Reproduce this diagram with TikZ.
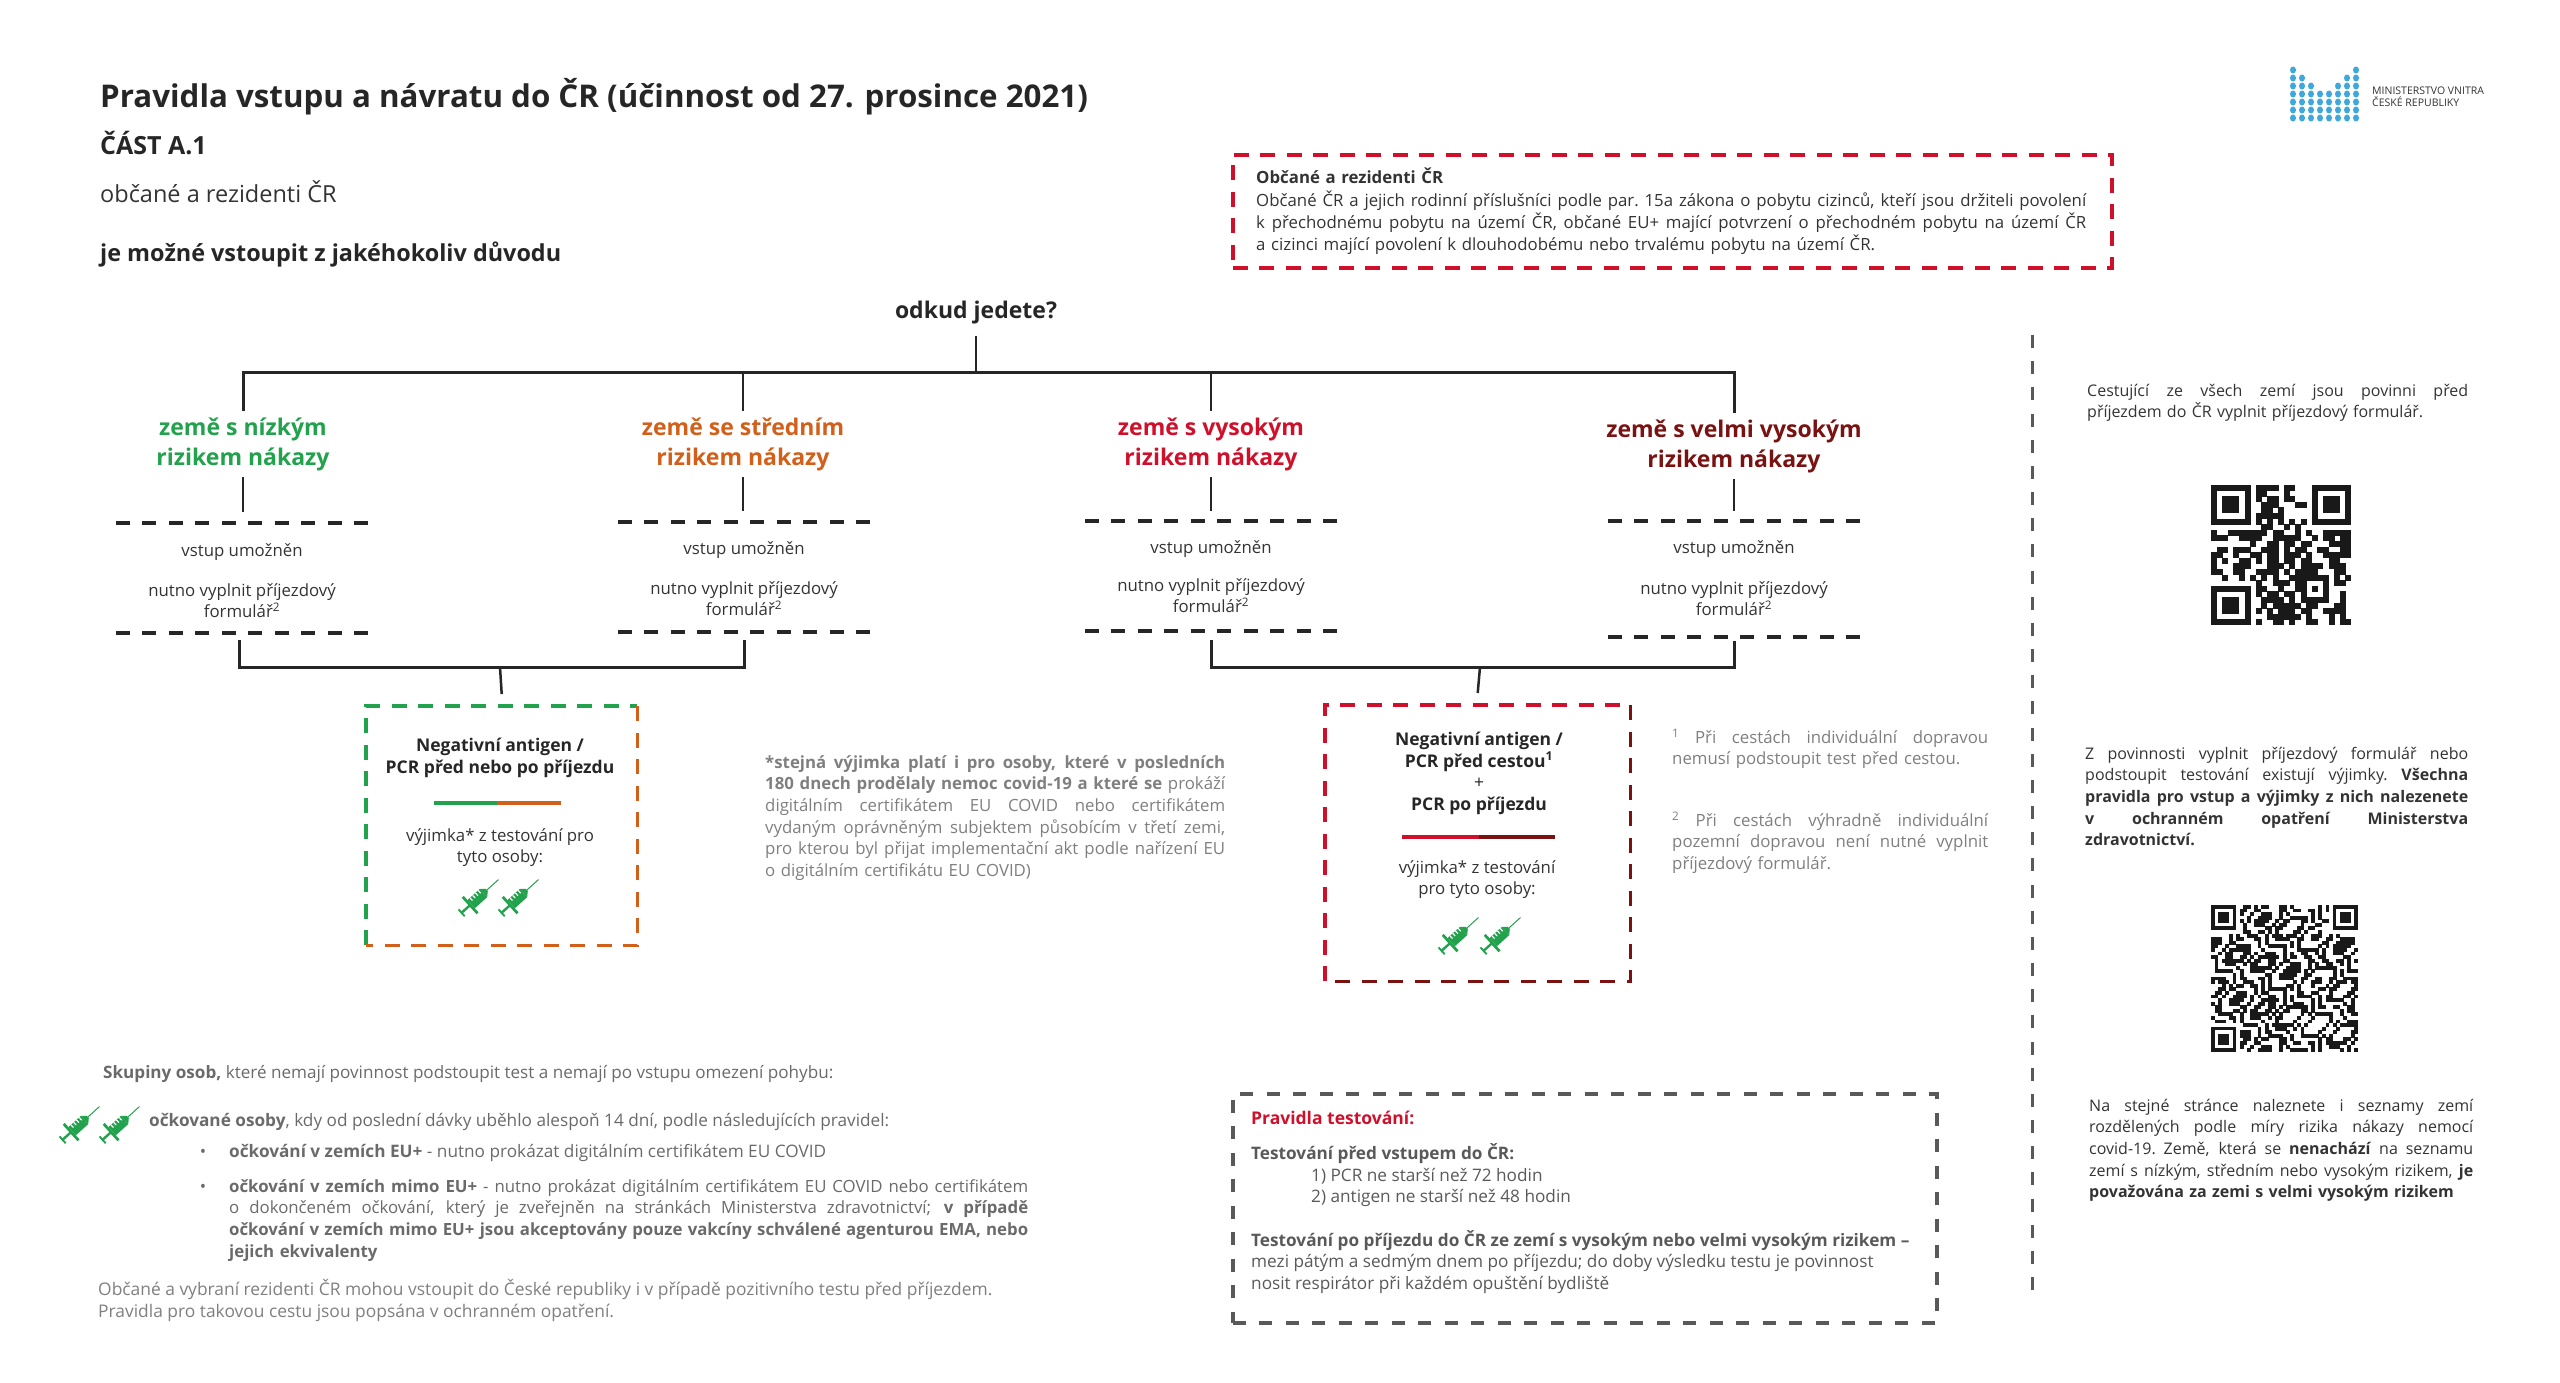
\documentclass[tikz,border=0pt]{standalone}
\usepackage{fontspec}
\setmainfont{Open Sans}
\usetikzlibrary{positioning, calc}

\definecolor{riskgreen}{HTML}{23A24D}
\definecolor{riskorange}{HTML}{D2601A}
\definecolor{riskred}{HTML}{D0102B}
\definecolor{riskdark}{HTML}{7A1212}
\definecolor{boxgray}{HTML}{595959}
\definecolor{softgray}{HTML}{7F7F7F}
\definecolor{midgray}{HTML}{6A6A6A}
\definecolor{inkgray}{HTML}{333333}
\definecolor{logoblue}{HTML}{3FA7DB}

\newcommand{\bodyfont}{\fontsize{16.8}{21.6}\selectfont}
\newcommand{\sidefont}{\fontsize{16}{21.6}\selectfont}
\newcommand{\lowfont}{\fontsize{17.2}{21.6}\selectfont}
\newcommand{\boldfont}{\fontsize{17.5}{21.6}\selectfont\bfseries}
\newcommand{\jl}[2]{\leavevmode\hbox to #1pt{\spaceskip=.26em plus 1fil minus .12em\xspaceskip=\spaceskip #2}}

% one row of a code square, read bit by bit
\newcount\qrcol
\newcommand{\qrscan}[1]{\ifx#1;\else\if#11\fill (\qrx+\the\qrcol*\qrm,\qry+\qrrow*\qrm) rectangle +(\qrm+.3,\qrm+.3);\fi\advance\qrcol by 1 \expandafter\qrscan\fi}

\begin{document}
\begin{tikzpicture}[
        x=1pt, y=-1pt,
        txt/.style={inner sep=0pt, execute at begin node=\strut},
        body/.style={txt, font=\bodyfont, text=inkgray},
        para/.style={body, anchor=north west, align=left},
        entry/.style={body, align=center, minimum width=252pt},
        head/.style={inner sep=0pt, align=center, font=\fontsize{23}{30}\selectfont\bfseries, minimum height=66pt},
        wire/.style={line width=3pt, draw=black!85},
        rule/.style={line width=3.5pt, draw=black!85, dash pattern=on 14pt off 12.5pt},
        edge/.style={line width=3.5pt, dash pattern=on 15pt off 11.5pt},
        syr/.style={fill=riskgreen, draw=none},
        syringe/.pic={
            \begin{scope}[rotate=42, scale=.92]
                \fill[syr] (-25pt,-5pt) rectangle (-23pt,5pt);
                \fill[syr] (-25pt,-1.3pt) rectangle (-12pt,1.3pt);
                \fill[syr] (-13pt,-12pt) rectangle (-10pt,12pt);
                \fill[syr] (-10pt,-6pt) rectangle (8pt,6pt);
                \fill[syr] (8pt,-6pt) -- (13pt,-1.5pt) -- (13pt,1.5pt) -- (8pt,6pt) -- cycle;
                \draw[riskgreen, line width=1pt] (13pt,0pt) -- (30pt,0pt);
                \foreach \t in {-7,-3,1,5} \fill[white] (\t pt,2pt) rectangle (\t pt+1.3pt,6pt);
            \end{scope}
        }
    ]
    \useasboundingbox (0,0) rectangle (2560,1382);

    % header
    \node[txt, anchor=west, font=\fontsize{31.3}{43}\selectfont\bfseries, text=black!85] (title) at (100,99) {Pravidla vstupu a návratu do ČR (účinnost od 27. prosince 2021)};
    \node[txt, anchor=west, font=\fontsize{25}{33}\selectfont\bfseries, text=black!85] (part) at (100,148) {ČÁST A.1};
    \node[txt, anchor=west, font=\fontsize{23.5}{31}\selectfont, text=inkgray] (who) at (100,196) {občané a rezidenti ČR};
    \node[txt, anchor=west, font=\fontsize{23.4}{31}\selectfont\bfseries, text=black!85] (why) at (100,255) {je možné vstoupit z jakéhokoliv důvodu};

    % logo
    \foreach \r in {0,...,6} \foreach \c in {0,...,7} {
        \ifnum\c<\numexpr\r+1\relax \fill[logoblue] (2293+\c*9,70+\r*8) ellipse (3 and 3.5);
        \else\ifnum\c>\numexpr6-\r\relax \fill[logoblue] (2293+\c*9,70+\r*8) ellipse (3 and 3.5);\fi\fi
    }
    \node[txt, anchor=north west, align=left, font=\fontsize{10.5}{12}\selectfont, text=inkgray] (logotext) at (2372,87) {MINISTERSTVO VNITRA\\ČESKÉ REPUBLIKY};

    % who counts as citizen or resident
    \node[edge, draw=riskred, minimum width=879pt, minimum height=113pt, anchor=north west] (citizens) at (1231,153) {};
    \node[para, text width=830pt] (citizenstext) at (1256,168) {\textbf{Občané a rezidenti ČR}\\
        \jl{830}{Občané ČR a jejich rodinní příslušníci podle par. 15a zákona o pobytu cizinců, kteří jsou držiteli povolení}\\
        \jl{830}{k přechodnému pobytu na území ČR, občané EU+ mající potvrzení o přechodném pobytu na území ČR}\\
        a cizinci mající povolení k dlouhodobému nebo trvalému pobytu na území ČR.};

    % the tree
    \node[txt, font=\fontsize{23}{31}\selectfont\bfseries, text=black!85] (from) at (976,312) {odkud jedete?};
    \coordinate (bus) at (976,372);
    \node[head, text=riskgreen] (low) at (243,444) {země s nízkým\\rizikem nákazy};
    \node[head, text=riskorange] (mid) at (743,444) {země se středním\\rizikem nákazy};
    \node[head, text=riskred] (high) at (1211,444) {země s vysokým\\rizikem nákazy};
    \node[head, text=riskdark] (vhigh) at (1734,446) {země s velmi vysokým\\rizikem nákazy};

    \draw[wire, line width=2.5pt] ([yshift=-8pt]from.south) -- (bus);
    \draw[wire] (low.north) -- (low.north |- bus) -- (vhigh.north |- bus) -- (vhigh.north);
    \draw[wire, line width=2.5pt] (mid.north) -- (mid.north |- bus);
    \draw[wire, line width=2.5pt] (high.north) -- (high.north |- bus);

    \node[entry, minimum height=110pt] (lowentry) at (242,578) {};
    \node[entry, minimum height=110pt] (midentry) at (744,577) {};
    \node[entry, minimum height=110pt] (highentry) at (1211,576) {};
    \node[entry, minimum height=116pt] (vhighentry) at (1734,579) {};

    \foreach \n in {lowentry, midentry, highentry, vhighentry} {
        \draw[rule] (\n.north west) -- (\n.north east);
        \draw[rule] (\n.south west) -- (\n.south east);
    }
    \draw[wire, line width=2.5pt] (low.south) -- ([yshift=11pt]lowentry.north -| low);
    \draw[wire, line width=2.5pt] (mid.south) -- ([yshift=11pt]midentry.north -| mid);
    \draw[wire, line width=2.5pt] (high.south) -- ([yshift=10pt]highentry.north -| high);
    \draw[wire, line width=2.5pt] (vhigh.south) -- ([yshift=10pt]vhighentry.north -| vhigh);

    \node[body] (lowin) at (242,552) {vstup umožněn};
    \node[body] (midin) at (744,550) {vstup umožněn};
    \node[body] (highin) at (1211,549) {vstup umožněn};
    \node[body] (vhighin) at (1734,549) {vstup umožněn};
    \node[body, align=center, anchor=north] (lowform) at (242,583) {nutno vyplnit příjezdový\\formulář\textsuperscript{2}};
    \node[body, align=center, anchor=north] (midform) at (744,581) {nutno vyplnit příjezdový\\formulář\textsuperscript{2}};
    \node[body, align=center, anchor=north] (highform) at (1211,578) {nutno vyplnit příjezdový\\formulář\textsuperscript{2}};
    \node[body, align=center, anchor=north] (vhighform) at (1734,581) {nutno vyplnit příjezdový\\formulář\textsuperscript{2}};

    % green and orange box
    \node[inner sep=0pt, minimum width=271pt, minimum height=239pt, anchor=north west] (gobox) at (366,706) {};
    \coordinate (gojoin) at (500,667);
    \draw[wire] ([xshift=-3pt,yshift=-7pt]lowentry.south) |- (gojoin) -| ([yshift=-8pt]midentry.south);
    \draw[wire, line width=2.5pt] (gojoin) -- ([yshift=12pt]gobox.north);
    \draw[edge, draw=riskgreen] (gobox.south west) -- (gobox.north west) -- (gobox.north east);
    \draw[edge, draw=riskorange] (gobox.north east) -- (gobox.south east) -- (gobox.south west);
    \node[body, align=center, anchor=north, font=\boldfont, text=black!85] (gotest) at (500,738) {Negativní antigen /\\PCR před nebo po příjezdu};
    \coordinate (gomid) at (497,803);
    \draw[riskgreen, line width=3.5pt] (434,803) -- (gomid);
    \draw[riskorange, line width=3.5pt] (gomid) -- (561,803);
    \node[body, align=center, anchor=north] (goexc) at (500,828) {výjimka* z testování pro\\tyto osoby:};
    \pic at (478,898) {syringe};
    \pic at (518,898) {syringe};

    % red and dark red box
    \node[inner sep=0pt, minimum width=305pt, minimum height=276pt, anchor=north west] (rdbox) at (1325,705) {};
    \coordinate (rdjoin) at (1480,667);
    \draw[wire] ([yshift=-9pt]highentry.south) |- (rdjoin) -| ([yshift=-4pt]vhighentry.south);
    \draw[wire, line width=2.5pt] (rdjoin) -- ([yshift=12pt]rdbox.north);
    \draw[edge, draw=riskred] (rdbox.south west) -- (rdbox.north west) -- (rdbox.north east);
    \draw[edge, draw=riskdark] (rdbox.north east) -- (rdbox.south east) -- (rdbox.south west);
    \node[body, align=center, anchor=north, font=\boldfont, text=black!85] (rdtest) at (1479,732) {Negativní antigen /\\PCR před cestou\textsuperscript{1}\\\textmd{+}\\PCR po příjezdu};
    \coordinate (rdmid) at (1479,837);
    \draw[riskred, line width=3.5pt] (1402,837) -- (rdmid);
    \draw[riskdark, line width=3.5pt] (rdmid) -- (1555,837);
    \node[body, align=center, anchor=north] (rdexc) at (1477,860) {výjimka* z testování\\pro tyto osoby:};
    \pic at (1458,936) {syringe};
    \pic at (1500,936) {syringe};

    % notes beside the boxes
    \node[para, text width=460pt, text=softgray] (recovered) at (765,753) {\jl{460}{\textbf{*stejná výjimka platí i pro osoby, které v posledních}}\\
        \jl{460}{\textbf{180 dnech prodělaly nemoc covid-19 a které se} prokáží}\\
        \jl{460}{digitálním certifikátem EU COVID nebo certifikátem}\\
        \jl{460}{vydaným oprávněným subjektem působícím v třetí zemi,}\\
        \jl{460}{pro kterou byl přijat implementační akt podle nařízení EU}\\
        o digitálním certifikátu EU COVID)};
    \node[para, text width=316pt, text=softgray] (noteone) at (1672,728) {\jl{316}{\textsuperscript{1} Při cestách individuální dopravou}\\nemusí podstoupit test před cestou.};
    \node[para, text width=316pt, text=softgray] (notetwo) at (1672,811) {\jl{316}{\textsuperscript{2} Při cestách výhradně individuální}\\\jl{316}{pozemní dopravou není nutné vyplnit}\\příjezdový formulář.};

    % exempt groups
    \node[para, font=\fontsize{17.1}{21.6}\selectfont, text=midgray] (groups) at (103,1063) {\textbf{Skupiny osob,} které nemají povinnost podstoupit test a nemají po vstupu omezení pohybu:};
    \pic at (79,1125) {syringe};
    \pic at (119,1125) {syringe};
    \node[para, font=\lowfont, text=midgray] (vaccinated) at (149,1111) {\textbf{očkované osoby}, kdy od poslední dávky uběhlo alespoň 14 dní, podle následujících pravidel:};
    \node[body, text=midgray] (bulletone) at (203,1153) {•};
    \node[para, font=\lowfont, text=midgray] (euplus) at (229,1142) {\textbf{očkování v zemích EU+} - nutno prokázat digitálním certifikátem EU COVID};
    \node[body, text=midgray] (bullettwo) at (203,1188) {•};
    \node[para, text width=799pt, text=midgray] (noneu) at (229,1177) {\jl{799}{\textbf{očkování v zemích mimo EU+} - nutno prokázat digitálním certifikátem EU COVID nebo certifikátem}\\
        \jl{799}{o dokončeném očkování, který je zveřejněn na stránkách Ministerstva zdravotnictví; \textbf{v případě}}\\
        \jl{799}{\textbf{očkování v zemích mimo EU+ jsou akceptovány pouze vakcíny schválené agenturou EMA, nebo}}\\
        \textbf{jejich ekvivalenty}};
    \node[para, font=\fontsize{17.4}{21.6}\selectfont, text=softgray] (positive) at (98,1279) {Občané a vybraní rezidenti ČR mohou vstoupit do České republiky i v případě pozitivního testu před příjezdem.\\Pravidla pro takovou cestu jsou popsána v ochranném opatření.};

    % testing rules
    \node[edge, dash pattern=on 13pt off 13.5pt, draw=boxgray, minimum width=704pt, minimum height=229pt, anchor=north west] (testing) at (1231,1092) {};
    \node[para, text=riskred, font=\boldfont] (testhead) at (1251,1109) {Pravidla testování:};
    \node[para, font=\lowfont, text=boxgray] (testpre) at (1251,1143) {\textbf{Testování před vstupem do ČR:}};
    \node[para, font=\lowfont, text=boxgray] (testlist) at (1311,1168) {1) PCR ne starší než 72 hodin\\2) antigen ne starší než 48 hodin};
    \node[para, font=\lowfont, text=boxgray] (testpost) at (1251,1230) {\textbf{Testování po příjezdu do ČR ze zemí s vysokým nebo velmi vysokým rizikem –}\\mezi pátým a sedmým dnem po příjezdu; do doby výsledku testu je povinnost\\nosit respirátor při každém opuštění bydliště};

    % divider and right column
    \coordinate (divtop) at (2032,335);
    \coordinate (divend) at (2032,1290);
    \draw[line width=3pt, draw=boxgray, dash pattern=on 13pt off 13.17pt] (divtop) -- (divend);

    \node[para, font=\sidefont, text width=381pt] (formnote) at (2087,381) {\jl{381}{Cestující ze všech zemí jsou povinni před}\\příjezdem do ČR vyplnit příjezdový formulář.};

    \begin{scope}[black!90]
        \def\qrx{2211}\def\qry{485}\def\qrm{5.6}
        \foreach \bits [count=\qrrow from 0] in {
            1111111011110110001111111, 1000001011000100001000001, 1011101010110110001011101,
            1011101001110001101011101, 1011101001101000001011101, 1000001011111000001000001,
            1111111010101010101111111, 0000000001100101000000000, 1001111111011001010011111,
            1110011110011111001011011, 0000000100110110110001111, 0110111001110101100110011,
            1100100110110111010011111, 1010011010110110110001100, 1000111000111010111101110,
            1100110011110101111000110, 0010010101010011111110101, 0000000010011101100010110,
            1111111011001001101010000, 1000001010110110100010010, 1011101001111010111110010,
            1011101001011111011000110, 1011101010101110110011110, 1000001000111111010001010,
            1111111010011010011001011} {
            \qrcol=0 \expandafter\qrscan\bits;
        }
        \def\qrx{2211}\def\qry{905}\def\qrm{3.58}
        \foreach \r in {0,...,40} \foreach \c in {0,...,40} {
            \pgfmathtruncatemacro{\qrbit}{mod(3*\r*\r+2*\c*\c+3*\r*\c+11*\r+7*\c,37)<17}
            \ifnum\qrbit=1 \fill (\qrx+\c*\qrm,\qry+\r*\qrm) rectangle +(\qrm+.3,\qrm+.3);\fi
        }
        \foreach \px/\py in {0/0, 34/0, 0/34} {
            \fill[white] (\qrx+\px*\qrm-\qrm,\qry+\py*\qrm-\qrm) rectangle +(9*\qrm,9*\qrm);
            \fill (\qrx+\px*\qrm,\qry+\py*\qrm) rectangle +(7*\qrm,7*\qrm);
            \fill[white] (\qrx+\px*\qrm+\qrm,\qry+\py*\qrm+\qrm) rectangle +(5*\qrm,5*\qrm);
            \fill (\qrx+\px*\qrm+2*\qrm,\qry+\py*\qrm+2*\qrm) rectangle +(3*\qrm,3*\qrm);
        }
    \end{scope}

    \node[para, font=\sidefont, text width=383pt] (exempt) at (2085,744) {\jl{383}{Z povinnosti vyplnit příjezdový formulář nebo}\\
        \jl{383}{podstoupit testování existují výjimky. \textbf{Všechna}}\\
        \jl{383}{\textbf{pravidla pro vstup a výjimky z nich nalezenete}}\\
        \jl{383}{\textbf{v ochranném opatření Ministerstva}}\\
        \textbf{zdravotnictví.}};
    \node[para, font=\sidefont, text width=384pt] (lists) at (2089,1096) {\jl{384}{Na stejné stránce naleznete i seznamy zemí}\\
        \jl{384}{rozdělených podle míry rizika nákazy nemocí}\\
        \jl{384}{covid-19. Země, která se \textbf{nenachází} na seznamu}\\
        \jl{384}{zemí s nízkým, středním nebo vysokým rizikem, \textbf{je}}\\
        \textbf{považována za zemi s velmi vysokým rizikem}};
\end{tikzpicture}
\end{document}
